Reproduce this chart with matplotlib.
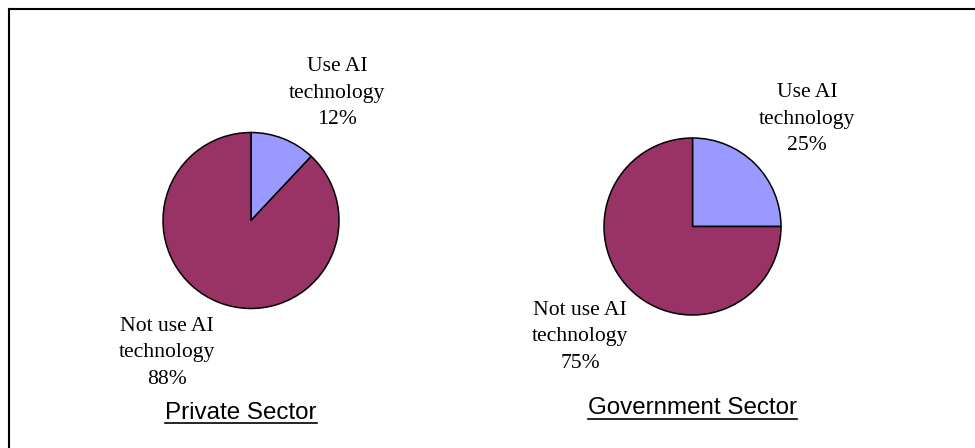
import matplotlib
matplotlib.use("Agg")
import matplotlib.pyplot as plt
from matplotlib.lines import Line2D

# Share of organisations using AI technology, by sector
sectors = ["Private Sector", "Government Sector"]
slice_labels = ["Use AI\ntechnology", "Not use AI\ntechnology"]
private_values = [12, 88]
government_values = [25, 75]
slice_colors = ["#9999FF", "#993366"]

W, H = 975, 448
fig = plt.figure(figsize=(W / 100, H / 100), dpi=100)
ax = fig.add_axes([0, 0, 1, 1])
ax.set_xlim(0, W)
ax.set_ylim(0, H)
ax.set_aspect("equal")
ax.axis("off")

serif = "Liberation Serif"
sans = "Liberation Sans"

pies = [
    dict(values=private_values, center=(251, H - 220.5), radius=88,
         label_pos=[(337, H - 93), (167, H - 353)], title_pos=(241, H - 413)),
    dict(values=government_values, center=(692.5, H - 226.5), radius=88.5,
         label_pos=[(807, H - 119), (580, H - 337)], title_pos=(692, H - 408)),
]

titles = []
for name, p in zip(sectors, pies):
    ax.pie(p["values"], colors=slice_colors, startangle=90, counterclock=False,
           center=p["center"], radius=p["radius"], frame=True,
           wedgeprops=dict(edgecolor="black", linewidth=1.1))
    for lab, val, (x, y) in zip(slice_labels, p["values"], p["label_pos"]):
        ax.text(x, y, f"{lab}\n{val}%", ha="center", va="center",
                fontsize=15.6, family=serif, linespacing=1.52, color="black")
    t = ax.text(p["title_pos"][0], p["title_pos"][1], name, ha="center",
                va="center", fontsize=17.4, family=sans, color="black")
    titles.append(t)

ax.set_xlim(0, W)
ax.set_ylim(0, H)
ax.axis("off")

# Underline the sector titles
fig.canvas.draw()
renderer = fig.canvas.get_renderer()
for t in titles:
    bb = t.get_window_extent(renderer)
    y_line = bb.y0 + 0.5
    fig.add_artist(Line2D([bb.x0 / W, bb.x1 / W], [y_line / H, y_line / H],
                          transform=fig.transFigure, color="black", linewidth=1.2))

# Frame edges along the top and left
fig.add_artist(Line2D([8.5 / W, 1.0], [1 - 9.5 / H, 1 - 9.5 / H],
                      transform=fig.transFigure, color="black", linewidth=1.5))
fig.add_artist(Line2D([8.5 / W, 8.5 / W], [0.0, 1 - 9.5 / H],
                      transform=fig.transFigure, color="black", linewidth=1.5))

fig.savefig("out.png", dpi=100)
